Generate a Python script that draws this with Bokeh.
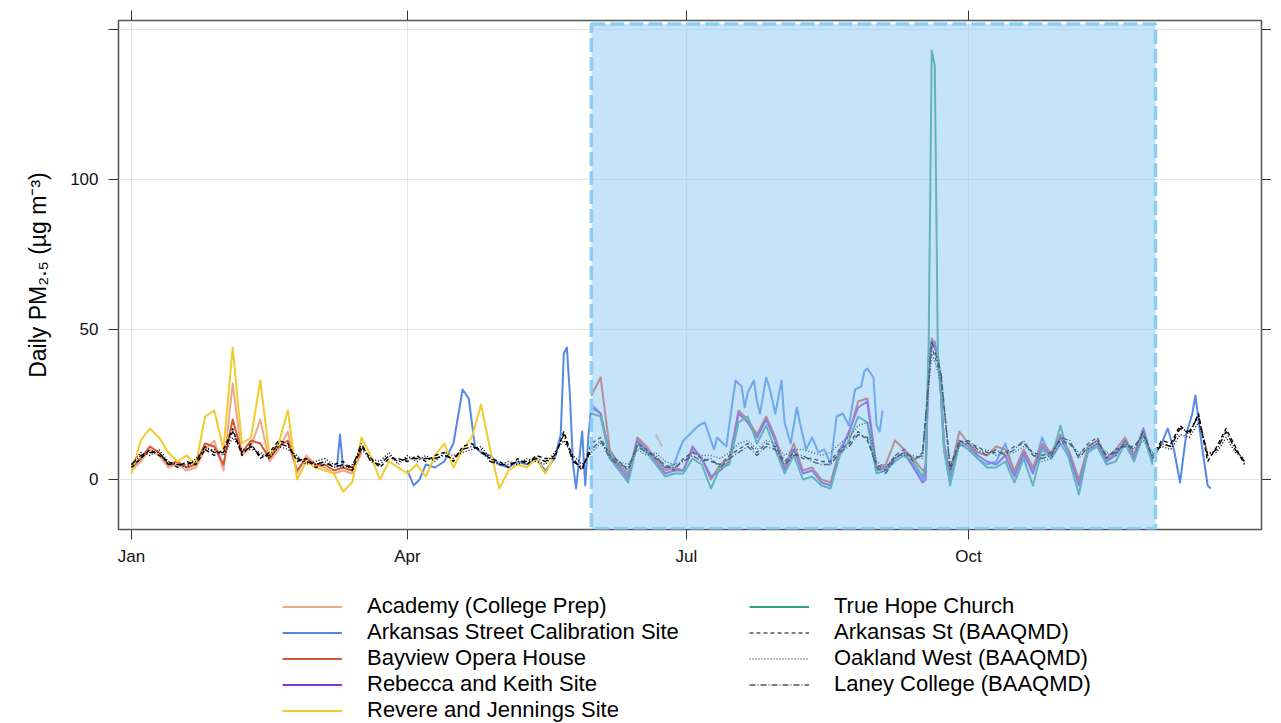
import pandas as pd
from bokeh.plotting import figure
from bokeh.models import (Range1d, FixedTicker, LinearAxis, DatetimeTickFormatter,
                          Legend, LegendItem)
from bokeh.layouts import column
from bokeh.embed import file_html
from bokeh.resources import INLINE

nan = float("nan")
year_start = pd.Timestamp("2019-01-01")

# ---------------- data ----------------
month_ticks = ["2019-01-01", "2019-04-01", "2019-07-01", "2019-10-01"]
pm_ticks = [0, 50, 100, 150]
study_period = ("2019-05-31", "2019-12-01")

# BAAQMD reference monitors, read every third day (day-of-year)
baaqmd_days = list(range(0, 364, 3))
arkansas_st = [4, 7, 10, 8, 6, 4, 6, 5, 10, 8,
               10, 17, 8, 12, 7, 9, 13, 12, 6, 7,
               4, 5, 5, 6, 3, 11, 7, 4, 7, 7,
               6, 8, 6, 8, 9, 6, 11, 12, 9, 7,
               6, 4, 7, 5, 8, 7, 7, 16, 7, 3,
               12, 14, 8, 6, 3, 12, 10, 7, 5, 3,
               7, 9, 7, 6, 5, 8, 10, 12, 9, 12,
               11, 6, 9, 7, 7, 6, 6, 10, 12, 16,
               13, 5, 3, 8, 10, 6, 9, 44, 35, 4,
               13, 12, 11, 9, 9, 9, 11, 12, 9, 8,
               9, 13, 12, 8, 12, 14, 7, 10, 11, 11,
               15, 8, 13, 12, 18, 15, 22, 6, 11, 17,
               11, 5]
oakland_west = [5, 9, 8, 10, 6, 5, 4, 7, 10, 10,
                8, 14, 10, 10, 9, 7, 11, 10, 8, 5,
                6, 7, 5, 4, 5, 10, 7, 6, 9, 5,
                8, 6, 8, 6, 9, 8, 9, 10, 11, 7,
                5, 6, 5, 7, 6, 5, 9, 13, 8, 5,
                9, 12, 9, 6, 5, 10, 8, 9, 6, 5,
                6, 9, 8, 8, 7, 9, 12, 13, 10, 13,
                12, 8, 10, 10, 9, 8, 9, 12, 14, 18,
                19, 6, 4, 8, 8, 8, 7, 42, 33, 5,
                11, 12, 9, 10, 8, 9, 9, 11, 9, 6,
                7, 12, 12, 9, 10, 12, 9, 8, 13, 9,
                13, 9, 11, 10, 15, 14, 19, 9, 9, 14,
                9, 7]
laney_college = [5, 8, 9, 9, 5, 5, 5, 6, 11, 9,
                 9, 16, 9, 11, 8, 8, 12, 11, 7, 6,
                 5, 6, 4, 5, 4, 12, 6, 5, 8, 6,
                 7, 7, 7, 7, 8, 7, 10, 11, 10, 6,
                 5, 5, 6, 6, 7, 6, 8, 15, 6, 4,
                 10, 13, 7, 5, 4, 11, 9, 8, 4, 4,
                 6, 8, 6, 7, 4, 7, 9, 11, 8, 11,
                 10, 5, 8, 8, 6, 5, 5, 9, 11, 15,
                 14, 4, 2, 7, 9, 7, 8, 46, 36, 3,
                 12, 13, 10, 8, 10, 8, 10, 13, 8, 7,
                 8, 14, 13, 7, 11, 13, 8, 9, 12, 10,
                 16, 7, 12, 11, 17, 16, 21, 8, 10, 16,
                 10, 6]

early_days = list(range(0, 76, 3))
study_days = (list(range(150, 259, 3)) + [259, 260, 261, 262, 263, 264, 265, 267]
              + list(range(270, 334, 3)))

academy_days = early_days + [120, 171, 172, 173]
academy = [3, 6, 10, 8, 4, 5, 3, 4, 10, 13, 3, 32, 8, 11, 20, 6, 10, 16, 2, 8,
           5, 4, 2, 3, 2, 9, nan, 15, 13, 11]

bayview_days = early_days + [110] + study_days
bayview = ([4, 7, 11, 9, 5, 6, 4, 5, 12, 11, 5, 20, 9, 13, 12, 7, 11, 13, 3, 7,
            5, 5, 3, 4, 3, 10, nan]
           + [28, 34, 10, 5, 1, 14, 11, 7, 3, 4, 3, 10, 7, 0, 5, 7, 23, 20, 15, 21,
              14, 4, 12, 3, 4, 0, -1, 10, 15, 26, 27, 4, 5, 13, 10, 7, 3]
           + [4, 40, 47, 45, 41, 29, 12, 2]
           + [16, 12, 9, 8, 11, 10, 3, 10, 4, 12, 9, 15, 9, 0, 11, 13, 7, 10, 14, 8, 17, 6])

rebecca_days = study_days
rebecca = ([24, 22, 8, 4, 0, 13, 10, 6, 2, 3, 3, 11, 7, 1, 3, 6, 22, 19, 14, 20,
            13, 3, 10, 2, 3, -1, -2, 9, 16, 24, 26, 3, 4, 7, 9, 4, -1]
           + [0, 38, 46, 44, 42, 30, 12, 0]
           + [13, 11, 8, 6, 5, 8, 1, 9, 2, 11, 8, 14, 8, -2, 10, 12, 6, 8, 13, 7, 17, 6])

true_hope_days = study_days
true_hope = ([22, 21, 7, 3, -1, 12, 9, 5, 1, 2, 2, 7, 5, -3, 4, 5, 19, 21, 12, 18,
              10, 2, 8, 0, 1, -2, -3, 8, 13, 21, 19, 2, 3, 6, 8, 6, 1]
             + [5, 45, 143, 138, 42, 28, 10, -1]
             + [12, 10, 7, 4, 4, 6, -1, 7, -2, 10, 7, 18, 6, -5, 10, 11, 5, 6, 12, 6, 15, 5])

revere_days = list(range(0, 139, 3))
revere = [2, 13, 17, 14, 9, 6, 8, 5, 21, 23, 10, 44, 12, 14, 33, 8, 12, 23, 0, 6,
          4, 3, 2, -4, -1, 14, 8, 0, 6, 4, 2, 5, 1, 8, 12, 4, 10, 14, 25, 10,
          -3, 3, 5, 4, 7, 2, 8]

calib_days = ([67, 68, 69, 80]
              + [90, 92, 94, 96, 99, 102, 105, 108, 110, 112, 114, 117, 120, 123, 126,
                 129, 132, 135, 138, 140, 141, 142, 143, 144, 145, 147, 148, 149]
              + [150, 153, 156, 159, 162, 165, 168, 171, 174, 177, 178, 180, 182, 185,
                 187, 188, 190, 191, 193, 194, 197, 199, 200, 201, 203, 204, 205, 207,
                 208, 210, 212, 213, 215, 217, 218, 220, 222, 224, 226, 228, 230, 232,
                 234, 236, 238, 239, 240, 242, 243, 244, 245, 248]
              + [252, 255, 258, 259, 260, 261, 262, 263, 264, 265, 267, 270, 273, 276,
                 279, 282, 285, 288, 291, 294, 297, 300, 303, 306, 309, 312, 315, 318,
                 321, 324, 327, 330, 333, 336, 338, 340, 342, 344, 346, 347, 348, 349,
                 351, 352])
calib = ([4, 15, 4, nan]
         + [3, -2, 0, 5, 4, 6, 12, 30, 27, 11, 9, 8, 5, 4, 6, 5, 7, 3, 7, 15,
            42, 44, 28, 5, -3, 16, -2, 14]
         + [25, 22, 8, 5, 2, 12, 9, 7, 4, 5, 8, 13, 15, 18, 19, 16, 10, 14, 12, 11,
            33, 31, 24, 29, 33, 26, 22, 34, 31, 22, 33, 19, 12, 24, 19, 10, 14, 9, 10, 5,
            21, 22, 18, 30, 31, 36, 37, 34, 18, 16, 23, nan]
         + [8, 5, 0, 2, 39, 45, 46, 40, 28, 10, -2, 12, 10, 7, 5, 6, 12, 2, 8, 3,
            14, 7, 12, 7, -1, 9, 11, 6, 9, 12, 8, 15, 7, 12, 17, 10, -1, 15, 22, 28,
            20, 12, -2, -3])

sensors = [
    ("Academy (College Prep)", academy_days, academy, "#eaa98a"),
    ("Arkansas Street Calibration Site", calib_days, calib, "#5589e8"),
    ("Bayview Opera House", bayview_days, bayview, "#dc5531"),
    ("Rebecca and Keith Site", rebecca_days, rebecca, "#8a33d6"),
    ("Revere and Jennings Site", revere_days, revere, "#f2cc2c"),
    ("True Hope Church", true_hope_days, true_hope, "#35a080"),
]
references = [
    ("Arkansas St (BAAQMD)", baaqmd_days, arkansas_st, "4 3"),
    ("Oakland West (BAAQMD)", baaqmd_days, oakland_west, "1 2"),
    ("Laney College (BAAQMD)", baaqmd_days, laney_college, "6 2 1 2"),
]


def to_dates(days):
    return year_start + pd.to_timedelta(days, unit="D")


FONT = "Liberation Sans"
xticks = [pd.Timestamp(d).value / 1e6 for d in month_ticks]

p = figure(width=1271, height=576, x_axis_type="datetime",
           x_range=Range1d(year_start - pd.Timedelta(days=4.24),
                           year_start + pd.Timedelta(days=368.56)),
           y_range=Range1d(-16.67, 153.0),
           output_backend="svg", toolbar_location=None,
           min_border_left=118, min_border_right=10, min_border_top=20,
           min_border_bottom=47)
p.background_fill_color = "white"
p.border_fill_color = "white"
p.outline_line_color = "#555555"
p.outline_line_width = 1.5

for _, d, v, c in sensors:
    p.line(to_dates(d), v, line_color=c, line_width=2, line_join="round")
for _, d, v, dash in references:
    p.line(to_dates(d), v, line_color="black", line_width=1.4, line_dash=dash)

# study period shading (drawn on top, translucent)
p.quad(left=[pd.Timestamp(study_period[0])], right=[pd.Timestamp(study_period[1])],
       bottom=[-16.3], top=[151.8], fill_color="#8bc7f3", fill_alpha=0.5,
       line_color="#8ccdf4", line_width=3.5, line_dash="14 5")

# axes
xfmt = DatetimeTickFormatter(microseconds="%b", milliseconds="%b", seconds="%b",
                             minsec="%b", minutes="%b", hourmin="%b", hours="%b",
                             days="%b", months="%b", years="%b")
xa = p.xaxis[0]
xa.ticker = FixedTicker(ticks=xticks)
xa.formatter = xfmt
ya = p.yaxis[0]
ya.ticker = FixedTicker(ticks=pm_ticks)
ya.major_label_overrides = {150: ""}
ya.axis_label = "Daily PM₂.₅ (µg m⁻³)"
ya.axis_label_text_font = FONT
ya.axis_label_text_font_size = "23px"
ya.axis_label_text_font_style = "normal"
ya.axis_label_standoff = 16
ya.axis_label_text_color = "black"

for ax in (xa, ya):
    ax.axis_line_color = None
    ax.major_tick_out = 10
    ax.major_tick_in = 0
    ax.minor_tick_out = 0
    ax.minor_tick_in = 0
    ax.major_tick_line_color = "#333333"
    ax.major_label_text_font = FONT
    ax.major_label_text_font_size = "17px"
    ax.major_label_text_color = "#111111"
xa.major_label_standoff = 7
ya.major_label_standoff = 10

top = LinearAxis(ticker=FixedTicker(ticks=xticks))
right = LinearAxis(ticker=FixedTicker(ticks=pm_ticks))
top.major_label_overrides = {t: "" for t in xticks}
right.major_label_overrides = {t: "" for t in pm_ticks}
for ax in (top, right):
    ax.axis_line_color = None
    ax.major_tick_out = 10
    ax.major_tick_in = 0
    ax.minor_tick_out = 0
    ax.minor_tick_in = 0
    ax.major_tick_line_color = "#333333"
    ax.major_label_text_font_size = "0px"
    ax.major_label_standoff = 0
p.add_layout(top, "above")
p.add_layout(right, "right")

p.xgrid.ticker = FixedTicker(ticks=xticks)
p.ygrid.ticker = FixedTicker(ticks=pm_ticks)
p.grid.grid_line_color = "#e4e4e4"
p.grid.grid_line_width = 1

# ---------------- legend panel ----------------
# the key renderers reuse the real series, but this panel's ranges keep them out of view
lg = figure(width=1271, height=147, x_range=Range1d(0, 1), y_range=Range1d(1000, 1001),
            output_backend="svg", toolbar_location=None, min_border=0,
            x_axis_location=None, y_axis_location=None, outline_line_color=None)
lg.grid.visible = False

items = []
for name, d, v, c in sensors:
    r = lg.line(to_dates(d), v, line_color=c, line_width=2)
    items.append(LegendItem(label=name, renderers=[r]))
for name, d, v, dash in references:
    r = lg.line(to_dates(d), v, line_color="black", line_width=1.2, line_dash=dash)
    items.append(LegendItem(label=name, renderers=[r]))


def make_legend(its, loc):
    return Legend(items=its, location=loc, orientation="vertical",
                  glyph_width=60, glyph_height=25, label_height=25, spacing=0,
                  label_standoff=25, padding=0, margin=0,
                  border_line_color=None, background_fill_alpha=0,
                  label_text_font=FONT, label_text_font_size="22px",
                  label_text_color="black")


# in the column layout this panel's frame is aligned with the chart frame (x = 118)
lg.add_layout(make_legend(items[:5], (164, 0)))
lg.add_layout(make_legend(items[5:], (631, 26)))

layout = column(p, lg, spacing=0)
open("out.html", "w").write(file_html(layout, INLINE))
